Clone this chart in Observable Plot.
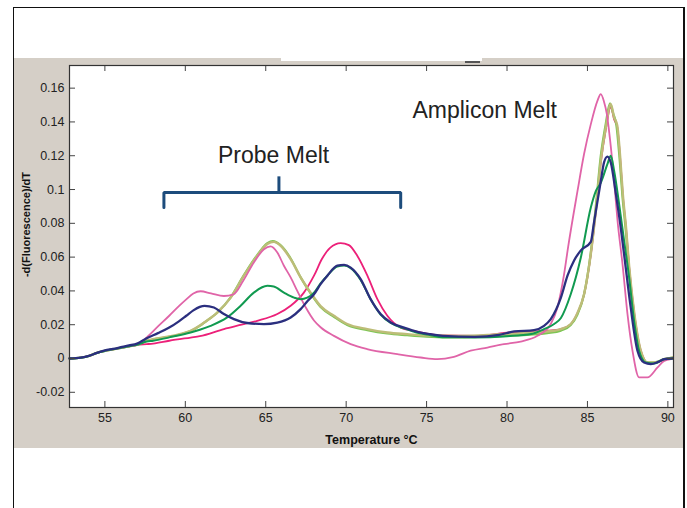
<!DOCTYPE html>
<html>
<head>
<meta charset="utf-8">
<script src="https://cdn.jsdelivr.net/npm/d3@7"></script>
<script src="https://cdn.jsdelivr.net/npm/@observablehq/plot@0.6"></script>
<style>
  html, body { margin: 0; padding: 0; background: #fff; }
  body { width: 687px; height: 508px; overflow: hidden; position: relative; font-family: "Liberation Sans", Arial, sans-serif; }
  #box { position: absolute; left: 13px; top: 7px; width: 669px; height: 560px; border-left: 1px solid #111; border-top: 1px solid #111; border-right: 2px solid #111; }
  #chart { position: absolute; left: 14px; top: 58px; width: 669px; height: 390px; }
  #strip { position: absolute; left: 281px; top: 58px; width: 201px; height: 3px; background: #fff; }
  #dash { position: absolute; left: 465px; top: 61px; width: 15px; height: 2px; background: #555; }
</style>
</head>
<body>
<div id="box"></div>
<div id="chart"></div>
<div id="strip"></div>
<div id="dash"></div>
<script>
// ---- data (temperature °C, -dF/dT) ----
const startValues = [[52.8,0],[53.5,0.0005],[54,0.0015],[54.5,0.0033],[55,0.0045],[55.5,0.0054],[56,0.0063],[56.5,0.0072],[57,0.0081]];

const orchid = [[57.6,0.0125],[58.3,0.019],[59,0.0253],[59.6,0.031],[60.06,0.035],[60.5,0.0385],[60.95,0.0398],[61.6,0.0385],[62.4,0.037],[63.0,0.038],[63.6,0.046],[64.26,0.0568],[64.89,0.0647],[65.3,0.0663],[65.72,0.0627],[66.13,0.0549],[66.55,0.048],[66.96,0.040],[67.17,0.036],[67.5,0.030],[68.0,0.0225],[68.41,0.0185],[69.24,0.0134],[70.28,0.0085],[71.3,0.0056],[73.18,0.0026],[74.63,0.0006],[75.67,-0.0004],[76.7,0.001],[77.74,0.0046],[78.78,0.0065],[79.81,0.0085],[80.85,0.01],[81.89,0.0134],[82.72,0.0204],[83.13,0.03],[83.55,0.05],[83.8,0.066],[84.38,0.099],[84.79,0.121],[85.21,0.1387],[85.62,0.1525],[85.83,0.1565],[86.03,0.152],[86.2,0.145],[86.4,0.13],[86.66,0.105],[86.87,0.0815],[87.18,0.0559],[87.49,0.0263],[87.8,0.0046],[88.21,-0.0112],[88.73,-0.0112],[89.36,-0.0053],[89.77,-0.0014],[90.2,-0.0004]];

const crimson = [[57.6,0.0085],[58,0.0088],[59,0.0105],[60.33,0.0124],[60.9,0.0132],[62.4,0.0174],[63.5,0.020],[64.47,0.0223],[65.72,0.0263],[66.55,0.0312],[67.37,0.039],[68.0,0.049],[68.5,0.059],[69.0,0.0655],[69.66,0.0683],[70.17,0.0671],[70.69,0.0608],[71.32,0.049],[71.94,0.0351],[72.56,0.0253],[73.39,0.0183],[74.22,0.0164],[75.25,0.0144],[76,0.0136],[78,0.0134],[80.23,0.0154],[81.68,0.016],[82.93,0.0168],[83.35,0.0174],[83.96,0.0202],[84.38,0.0268],[84.79,0.0378],[85.21,0.0615],[85.52,0.0868],[85.83,0.116],[86.14,0.1355],[86.45,0.149],[86.66,0.1415],[86.85,0.137],[87.03,0.119],[87.2,0.0965],[87.4,0.077],[87.6,0.0535],[87.92,0.026],[88.32,0.0046],[88.75,-0.0024],[89.25,-0.0024],[89.77,-0.0004],[90.3,0.0005]];

const navy = [[55,0.0048],[55.5,0.0057],[56,0.0067],[56.5,0.0077],[57,0.0088],[57.6,0.012],[58.3,0.015],[59,0.0183],[59.6,0.022],[60.06,0.0253],[60.5,0.0285],[60.9,0.0306],[61.2,0.0312],[61.78,0.0302],[62.4,0.0263],[63.02,0.0233],[63.85,0.021],[64.89,0.0204],[65.72,0.0213],[66.55,0.0243],[67.17,0.0292],[67.6,0.034],[68.0,0.038],[68.41,0.044],[68.83,0.049],[69.45,0.0549],[69.87,0.0554],[70.28,0.0538],[70.9,0.047],[71.52,0.0351],[72.14,0.0263],[72.77,0.0213],[73.6,0.0183],[74.43,0.0158],[75.25,0.0144],[76,0.0134],[78,0.0128],[79.5,0.014],[80.45,0.016],[81.68,0.0168],[82.3,0.0193],[82.72,0.0233],[83.35,0.036],[83.76,0.049],[84.17,0.058],[84.59,0.064],[85.21,0.069],[85.4,0.08],[85.83,0.105],[86.03,0.116],[86.24,0.1195],[86.45,0.116],[86.77,0.0973],[87.07,0.0775],[87.38,0.0538],[87.69,0.0302],[88.11,0.0046],[88.52,-0.0024],[88.94,-0.0033],[89.4,-0.002],[89.77,-0.0004],[90.3,0]];

const green = [[57.6,0.010],[58,0.0105],[59,0.0125],[60.33,0.0154],[60.9,0.017],[61.57,0.0193],[62.6,0.0243],[63.44,0.0312],[64.26,0.039],[65.1,0.043],[65.5,0.0426],[66.13,0.039],[66.76,0.036],[67.17,0.0351],[67.58,0.036],[68.0,0.039],[68.41,0.0445],[68.83,0.049],[69.45,0.0545],[69.87,0.055],[70.28,0.0535],[70.9,0.0465],[71.52,0.035],[72.14,0.026],[72.77,0.021],[73.6,0.0178],[74.43,0.0152],[75.25,0.0138],[76,0.0126],[78,0.0125],[80,0.0132],[81.5,0.0145],[82.3,0.0174],[82.93,0.0204],[83.35,0.024],[83.96,0.038],[84.59,0.0598],[85.21,0.0893],[85.52,0.099],[85.83,0.104],[86.24,0.115],[86.45,0.12],[86.66,0.111],[86.97,0.0914],[87.28,0.0696],[87.59,0.048],[87.9,0.0223],[88.21,0.0046],[88.63,-0.0024],[89.15,-0.003],[89.77,-0.0004],[90.3,0]];

const khaki = [[57.6,0.0105],[58,0.0115],[59,0.013],[59.65,0.0144],[60.33,0.0164],[60.9,0.0195],[61.16,0.0213],[61.99,0.0272],[62.82,0.036],[63.64,0.049],[64.47,0.0608],[65.1,0.0677],[65.5,0.069],[65.93,0.0667],[66.55,0.0588],[67.17,0.048],[67.79,0.039],[68.41,0.031],[69.24,0.0253],[70.07,0.0204],[71.32,0.0174],[72.56,0.0154],[73.8,0.0144],[75,0.0136],[77,0.0134],[79,0.014],[80.85,0.015],[82.93,0.0164],[83.35,0.0174],[83.96,0.0204],[84.38,0.027],[84.79,0.038],[85.21,0.062],[85.52,0.0874],[85.83,0.117],[86.14,0.1367],[86.45,0.1505],[86.66,0.1426],[86.85,0.138],[87.03,0.12],[87.2,0.0973],[87.4,0.0775],[87.6,0.0538],[87.92,0.0263],[88.32,0.0046],[88.75,-0.0024],[89.25,-0.0024],[89.77,-0.0004],[90.3,0.0005]];

const lightGreen = [[57.6,0.0105],[58,0.0113],[59,0.0128],[59.65,0.0142],[60.33,0.0162],[60.9,0.0193],[61.16,0.0211],[61.99,0.0272],[62.82,0.0362],[63.64,0.0493],[64.47,0.0612],[65.1,0.0682],[65.45,0.0695],[65.9,0.0672],[66.55,0.0592],[67.17,0.048],[67.79,0.0385],[68.41,0.0305],[69.24,0.0247],[70.07,0.0198],[71.32,0.0168],[72.56,0.0148],[73.8,0.0138],[75,0.013],[77,0.0125],[79,0.013],[80.85,0.0138],[82.5,0.015],[83.35,0.0165],[83.96,0.0198],[84.38,0.026],[84.79,0.038],[85.21,0.063],[85.52,0.09],[85.83,0.12],[86.14,0.139],[86.4,0.151],[86.6,0.145],[86.8,0.138],[87.0,0.118],[87.18,0.0955],[87.38,0.076],[87.59,0.052],[87.9,0.025],[88.3,0.004],[88.73,-0.0025],[89.25,-0.0022],[89.77,-0.0004],[90.3,0.0005]];

// drawing order (bottom to top) and colours
const seriesNames  = ["crimson", "lightGreen", "khaki", "orchid", "green", "navy"];
const seriesColors = ["#ec2079", "#7cc653", "#bdbd78", "#e064a8", "#119a50", "#2b2f7f"];
const seriesWidths = [1.8, 2.2, 2.4, 1.8, 2, 2.3];
const seriesData = {orchid, crimson, navy, green, khaki, lightGreen};

const xTicks = [55, 60, 65, 70, 75, 80, 85, 90];
const yTicks = [-0.02, 0, 0.02, 0.04, 0.06, 0.08, 0.1, 0.12, 0.14, 0.16];
const yTickLabels = ["-0.02", "0", "0.02", "0.04", "0.06", "0.08", "0.1", "0.12", "0.14", "0.16"];

const annotations = [
  {label: "Probe Melt", T: 65.49, v: 0.1202},
  {label: "Amplicon Melt", T: 78.61, v: 0.1468}
];
const bracketPath = [{T: 58.67, v: 0.0893}, {T: 58.67, v: 0.0982}, {T: 73.39, v: 0.0982}, {T: 73.39, v: 0.0893}];
const bracketStem = [{T: 65.82, v1: 0.0982, v2: 0.1075}];

// ---- build ----
const W = 669, H = 390, mL = 55, mR = 10, mT = 7, mB = 41;
const innerW = W - mL - mR, innerH = H - mT - mB;
const tickLen = 6;
const yLabelFor = new Map(yTicks.map((t, i) => [t, yTickLabels[i]]));

const lineMarks = seriesNames.map((name, i) => {
  const pts = (name === "navy" ? startValues.slice(0, 4) : startValues).concat(seriesData[name]);
  return Plot.line(pts, {x: d => d[0], y: d => d[1], stroke: seriesColors[i], strokeWidth: seriesWidths[i], curve: "monotone-x"});
});

const chart = Plot.plot({
  width: W, height: H,
  marginLeft: mL, marginRight: mR, marginTop: mT, marginBottom: mB,
  style: {background: "#d5cfc7", fontFamily: "'Liberation Sans', Arial, sans-serif", fontSize: "12.5px", color: "#222", overflow: "visible"},
  x: {domain: [52.8, 90.35]},
  y: {domain: [-0.029, 0.1734]},
  marks: [
    Plot.frame({fill: "white", stroke: null}),
    ...lineMarks,
    Plot.line(bracketPath, {x: "T", y: "v", stroke: "#1d4c7c", strokeWidth: 3, strokeLinejoin: "miter", curve: "linear"}),
    Plot.ruleX(bracketStem, {x: "T", y1: "v1", y2: "v2", stroke: "#1d4c7c", strokeWidth: 3}),
    Plot.text(annotations, {x: "T", y: "v", text: "label", fontSize: 23, fill: "#222", textAnchor: "middle", lineAnchor: "middle"}),
    Plot.tickX(xTicks, {x: d => d, insetTop: innerH - tickLen, stroke: "#444"}),
    Plot.tickX(xTicks, {x: d => d, insetBottom: innerH - tickLen, stroke: "#444"}),
    Plot.tickY(yTicks, {y: d => d, insetRight: innerW - tickLen, stroke: "#444"}),
    Plot.tickY(yTicks, {y: d => d, insetLeft: innerW - tickLen, stroke: "#444"}),
    Plot.frame({stroke: "#333", strokeWidth: 1.2}),
    Plot.axisX(xTicks, {tickSize: 0, tickPadding: 6, tickFormat: d => String(d), label: null, fontSize: 12.5}),
    Plot.axisY(yTicks, {tickSize: 0, tickPadding: 5, tickFormat: d => yLabelFor.get(d), label: null, fontSize: 12.5}),
    Plot.text(["Temperature °C"], {frameAnchor: "bottom", textAnchor: "middle", lineAnchor: "middle", dy: 32, fontWeight: "bold", fontSize: 12.5, fill: "#111"}),
    Plot.text(["-d(Fluorescence)/dT"], {frameAnchor: "left", textAnchor: "middle", lineAnchor: "middle", rotate: -90, dx: -43.5, dy: -12, fontWeight: "bold", fontSize: 11, fill: "#111"})
  ]
});
document.getElementById("chart").appendChild(chart);
</script>
</body>
</html>
